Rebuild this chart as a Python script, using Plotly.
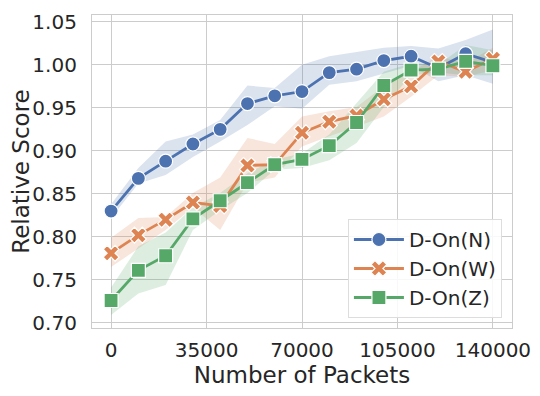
import plotly.graph_objects as go

packets = [0, 10000, 20000, 30000, 40000, 50000, 60000, 70000,
           80000, 90000, 100000, 110000, 120000, 130000, 140000]

on_n = [0.830, 0.868, 0.888, 0.908, 0.925, 0.955, 0.964, 0.969,
        0.991, 0.995, 1.005, 1.010, 0.996, 1.013, 1.003]
on_n_hi = [0.838, 0.880, 0.911, 0.919, 0.936, 0.976, 0.973, 1.000,
           1.010, 1.015, 1.020, 1.022, 1.019, 1.029, 1.041]
on_n_lo = [0.822, 0.862, 0.872, 0.893, 0.911, 0.930, 0.952, 0.949,
           0.977, 0.981, 0.990, 0.999, 0.981, 0.988, 0.978]

on_w = [0.781, 0.802, 0.820, 0.840, 0.836, 0.883, 0.884, 0.921,
        0.934, 0.941, 0.960, 0.975, 1.004, 0.992, 1.007]
on_w_hi = [0.799, 0.822, 0.823, 0.851, 0.869, 0.915, 0.908, 0.940,
           0.946, 0.951, 0.975, 0.992, 1.010, 1.002, 1.020]
on_w_lo = [0.765, 0.786, 0.808, 0.834, 0.808, 0.863, 0.869, 0.905,
           0.917, 0.928, 0.940, 0.963, 0.988, 0.986, 0.994]

on_z = [0.726, 0.761, 0.778, 0.821, 0.842, 0.863, 0.884, 0.890,
        0.906, 0.933, 0.976, 0.994, 0.995, 1.004, 0.999]
on_z_hi = [0.741, 0.789, 0.805, 0.834, 0.851, 0.874, 0.890, 0.897,
           0.919, 0.955, 0.992, 1.002, 1.000, 1.023, 1.017]
on_z_lo = [0.709, 0.734, 0.744, 0.808, 0.831, 0.851, 0.878, 0.880,
           0.889, 0.909, 0.951, 0.988, 0.991, 0.988, 0.988]

series = [
    ('D-On(N)', on_n, on_n_hi, on_n_lo, '#4C72B0', 'rgba(76,114,176,0.2)', 'circle'),
    ('D-On(W)', on_w, on_w_hi, on_w_lo, '#DD8452', 'rgba(221,132,82,0.2)', 'x'),
    ('D-On(Z)', on_z, on_z_hi, on_z_lo, '#55A868', 'rgba(85,168,104,0.2)', 'square'),
]

x_ticks = [0, 35000, 70000, 105000, 140000]
y_ticks = [0.70, 0.75, 0.80, 0.85, 0.90, 0.95, 1.00, 1.05]

fig = go.Figure()
for name, y, hi, lo, color, fill, symbol in series:
    fig.add_trace(go.Scatter(x=packets, y=hi, mode='lines', line=dict(width=0),
                             showlegend=False, hoverinfo='skip'))
    fig.add_trace(go.Scatter(x=packets, y=lo, mode='lines', line=dict(width=0),
                             fill='tonexty', fillcolor=fill,
                             showlegend=False, hoverinfo='skip'))
for name, y, hi, lo, color, fill, symbol in series:
    fig.add_trace(go.Scatter(
        x=packets, y=y, mode='lines+markers', name=name,
        line=dict(color=color, width=2.8),
        marker=dict(symbol=symbol, size=14, color=color,
                    line=dict(color='white', width=1.2))
    ))

axis_common = dict(
    showline=True, mirror=True, linecolor='#cccccc', linewidth=1.2,
    showgrid=True, gridcolor='#cccccc', gridwidth=1.2,
    zeroline=False, ticks='', automargin=False,
    tickfont=dict(size=20, color='#262626'),
)

# the page puts the figure 8px in from the corner, so margins allow for it
fig.update_layout(
    width=540, height=396,
    margin=dict(l=84, r=36, t=7, b=76),
    paper_bgcolor='white', plot_bgcolor='white',
    font=dict(family='DejaVu Sans', color='#262626'),
    legend=dict(x=0.976, y=0.032, xanchor='right', yanchor='bottom',
                traceorder='normal',
                bgcolor='rgba(255,255,255,0.85)', bordercolor='#dddddd',
                borderwidth=1, font=dict(size=20, color='#262626'),
                itemwidth=50, tracegroupgap=0),
)
fig.update_xaxes(range=[-7000, 147000], tickvals=x_ticks,
                 ticktext=[str(v) for v in x_ticks],
                 ticklabelstandoff=4,
                 title=dict(text='Number of Packets', font=dict(size=23), standoff=2),
                 **axis_common)
fig.update_yaxes(range=[0.694, 1.058], tickvals=y_ticks,
                 tickformat='.2f', ticklabelstandoff=10,
                 title=dict(text='Relative Score', font=dict(size=23), standoff=4),
                 **axis_common)

fig.write_html('out.html')
